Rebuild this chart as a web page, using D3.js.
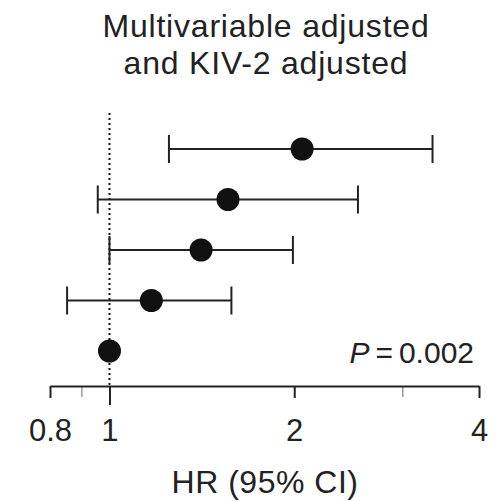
<!DOCTYPE html>
<html>
<head>
<meta charset="utf-8">
<script src="https://cdn.jsdelivr.net/npm/d3@7"></script>
<style>
  body { margin: 0; background: #fff; }
  text { font-family: "Liberation Sans", Arial, sans-serif; fill: #222; }
</style>
</head>
<body>
<div id="chart-area"></div>
<script>
// Data, top row first
const rows = ["Q5", "Q4", "Q3", "Q2", "Q1"];
const hr = [2.06, 1.56, 1.41, 1.17, 1.0];
const lower = [1.25, 0.957, 1.0, 0.853, null];
const upper = [3.36, 2.54, 1.99, 1.58, null];
const majorTicks = [0.8, 1, 2, 4];
const minorTicks = [0.9, 3];
const titleLines = ["Multivariable adjusted", "and KIV-2 adjusted"];

const W = 499, H = 501;

const svg = d3.select("#chart-area")
  .append("svg")
    .attr("width", W)
    .attr("height", H);

// scales
const x = d3.scaleLog()
  .domain([0.8, 4])
  .range([50, 479]);

const y = d3.scalePoint()
  .domain(rows)
  .range([149, 351]);

const axisY = 386;

// title
titleLines.forEach((t, i) => {
  svg.append("text")
    .attr("x", 266)
    .attr("y", 37 + i * 37)
    .attr("font-size", "32px")
    .attr("letter-spacing", "0.8px")
    .attr("text-anchor", "middle")
    .text(t);
});

// reference line at HR = 1
svg.append("line")
  .attr("x1", x(1)).attr("x2", x(1))
  .attr("y1", 113).attr("y2", axisY)
  .attr("stroke", "#111")
  .attr("stroke-width", 2)
  .attr("stroke-dasharray", "2,3");

// minor ticks (grey)
svg.append("g")
  .attr("transform", "translate(0," + axisY + ")")
  .call(d3.axisBottom(x).tickValues(minorTicks).tickSize(11).tickFormat(""))
  .call(g => g.select(".domain").remove())
  .call(g => g.selectAll(".tick line").attr("stroke", "#999").attr("stroke-width", 1.5));

// major axis
const xAxis = svg.append("g")
  .attr("transform", "translate(0," + axisY + ")")
  .call(d3.axisBottom(x)
    .tickValues(majorTicks)
    .tickSize(12)
    .tickSizeOuter(0)
    .tickPadding(21)
    .tickFormat(d => d3.format("")(d)));

xAxis.select(".domain")
  .attr("stroke", "#222")
  .attr("stroke-width", 2);
xAxis.selectAll(".tick line")
  .attr("stroke", "#222")
  .attr("stroke-width", 2)
  .attr("y2", d => d === 1 ? 19 : 12);
xAxis.selectAll(".tick text")
  .attr("font-size", "31px")
  .style("font-family", "'Liberation Sans', Arial, sans-serif")
  .attr("fill", "#222");

// x label
svg.append("text")
  .attr("x", 265)
  .attr("y", 493)
  .attr("font-size", "32px")
  .attr("letter-spacing", "0.5px")
  .attr("text-anchor", "middle")
  .text("HR (95% CI)");

// CI lines
const ci = rows.map((r, i) => ({ row: r, hr: hr[i], lo: lower[i], hi: upper[i] }))
  .filter(d => d.lo !== null);

svg.selectAll(".ci")
  .data(ci)
  .enter().append("line")
    .attr("class", "ci")
    .attr("x1", d => x(d.lo)).attr("x2", d => x(d.hi))
    .attr("y1", d => y(d.row)).attr("y2", d => y(d.row))
    .attr("stroke", "#222")
    .attr("stroke-width", 2);

// whisker caps
["lo", "hi"].forEach(k => {
  svg.selectAll(".cap-" + k)
    .data(ci)
    .enter().append("line")
      .attr("class", "cap-" + k)
      .attr("x1", d => x(d[k])).attr("x2", d => x(d[k]))
      .attr("y1", d => y(d.row) - 14).attr("y2", d => y(d.row) + 14)
      .attr("stroke", "#222")
      .attr("stroke-width", 2);
});

// points
svg.selectAll("circle")
  .data(rows.map((r, i) => ({ row: r, hr: hr[i] })))
  .enter().append("circle")
    .attr("cx", d => x(d.hr))
    .attr("cy", d => y(d.row))
    .attr("r", 11.5)
    .attr("fill", "#111");

// P value
const p = svg.append("text")
  .attr("x", 474)
  .attr("y", 363)
  .attr("font-size", "30px")
  .attr("text-anchor", "end");
p.append("tspan").attr("font-style", "italic").text("P");
p.append("tspan").text("\u2009=\u20090.002");
</script>
</body>
</html>
